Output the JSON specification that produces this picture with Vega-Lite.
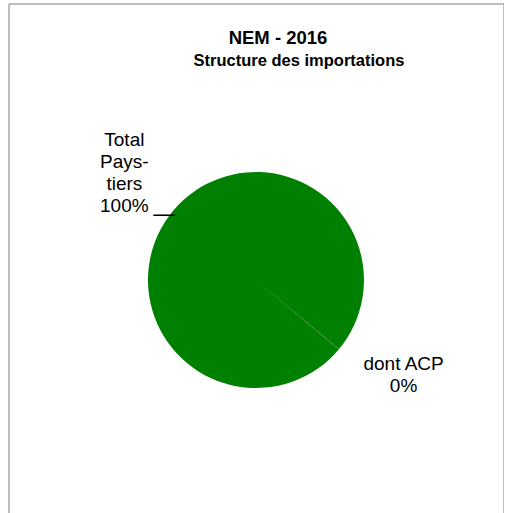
{
  "$schema": "https://vega.github.io/schema/vega-lite/v6.json",
  "width": 495,
  "height": 553,
  "autosize": {"type": "none"},
  "padding": {"left": 8.5, "top": 3.5, "right": 0, "bottom": 0},
  "background": "white",
  "view": {"stroke": "#808080", "strokeWidth": 1},
  "config": {
    "view": {"stroke": "#808080", "strokeWidth": 1},
    "font": "Liberation Sans"
  },
  "title": {
    "text": "NEM - 2016\u2800\u2800\u2800",
    "subtitle": "Structure des importations",
    "font": "Liberation Sans",
    "fontSize": 18.5,
    "fontWeight": "bold",
    "color": "black",
    "subtitleFont": "Liberation Sans",
    "subtitleFontSize": 16.5,
    "subtitleFontWeight": "bold",
    "subtitleColor": "black",
    "subtitlePadding": 6,
    "anchor": "middle",
    "dx": 43,
    "offset": -66
  },
  "data": {
    "values": [
      {"categorie": "Total Pays-tiers", "valeur": 100, "label": "Total\nPays-\ntiers\n100%"},
      {"categorie": "dont ACP", "valeur": 0.06, "label": "dont ACP\n0%"}
    ]
  },
  "encoding": {
    "theta": {"field": "valeur", "type": "quantitative", "stack": true, "scale": {"range": [2.269, 8.552]}},
    "order": {"field": "valeur", "sort": "descending"}
  },
  "layer": [
    {
      "mark": {"type": "arc", "outerRadius": 108, "stroke": null},
      "encoding": {
        "color": {
          "field": "categorie",
          "type": "nominal",
          "scale": {"domain": ["Total Pays-tiers", "dont ACP"], "range": ["#008000", "#005c00"]},
          "legend": null
        }
      }
    },
    {
      "transform": [{"filter": "datum.categorie == 'Total Pays-tiers'"}],
      "mark": {"type": "text", "radius": 192, "thetaOffset": 0.119, "fontSize": 19, "lineHeight": 22, "lineBreak": "\n", "color": "black", "align": "center", "baseline": "middle"},
      "encoding": {"text": {"field": "label"}}
    },
    {
      "transform": [{"filter": "datum.categorie == 'Total Pays-tiers'"}],
      "mark": {"type": "text", "radius": 113, "thetaOffset": -0.073, "fontSize": 22, "color": "black", "align": "center", "baseline": "middle", "text": "\u2014"}
    },
    {
      "transform": [{"filter": "datum.categorie == 'dont ACP'"}],
      "mark": {"type": "text", "radius": 170, "thetaOffset": -0.181, "fontSize": 19, "lineHeight": 22, "lineBreak": "\n", "color": "black", "align": "center", "baseline": "middle"},
      "encoding": {"text": {"field": "label"}}
    }
  ]
}
